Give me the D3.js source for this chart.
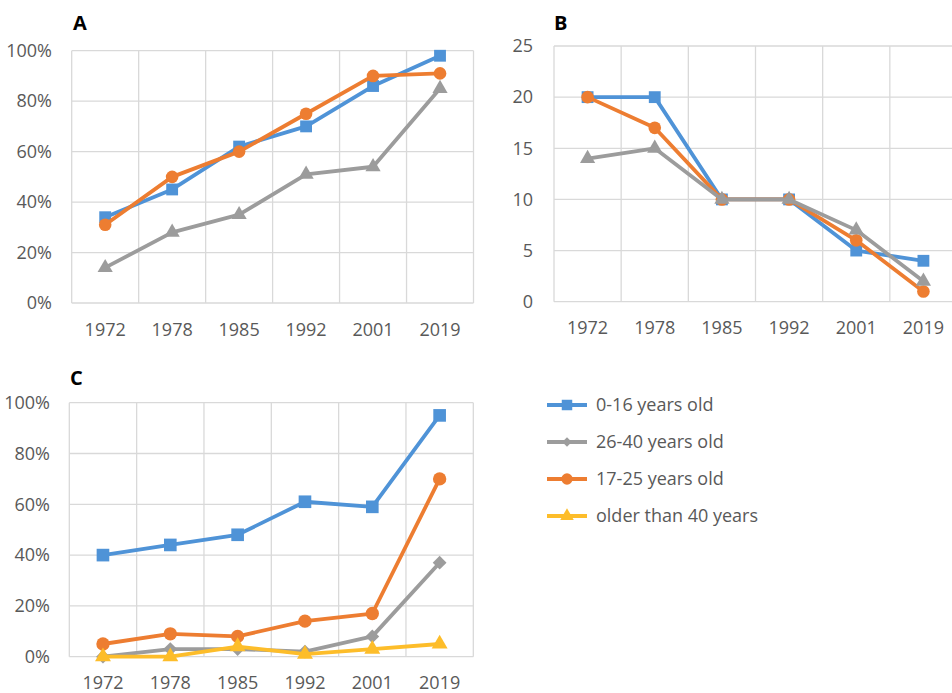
<!DOCTYPE html>
<html>
<head>
<meta charset="utf-8">
<script src="https://cdn.jsdelivr.net/npm/d3@7"></script>
<style>
  body { margin: 0; background: #fff; }
  text { font-family: "Open Sans", "Noto Sans", sans-serif; }
</style>
</head>
<body>
<div id="chart"></div>
<script>
const years = ['1972', '1978', '1985', '1992', '2001', '2019'];

// panel A (share, %)
const a0_16 = [34, 45, 62, 70, 86, 98];
const a17_25 = [31, 50, 60, 75, 90, 91];
const a26_40 = [14, 28, 35, 51, 54, 85];

// panel B (counts)
const b0_16 = [20, 20, 10, 10, 5, 4];
const b17_25 = [20, 17, 10, 10, 6, 1];
const b26_40 = [14, 15, 10, 10, 7, 2];

// panel C (share, %)
const c0_16 = [40, 44, 48, 61, 59, 95];
const c17_25 = [5, 9, 8, 14, 17, 70];
const c26_40 = [0, 3, 3, 2, 8, 37];
const cOver40 = [0, 0, 4, 1, 3, 5];

const pctTicks = [0, 20, 40, 60, 80, 100];
const numTicks = [0, 5, 10, 15, 20, 25];

const legendNames = ['0-16 years old', '26-40 years old', '17-25 years old', 'older than 40 years'];

const blue = '#4f93d7', orange = '#ed7d31', gray = '#9c9c9c', yellow = '#fdbd2a';
const textCol = '#595959', gridCol = '#d9d9d9';

const width = 952, height = 693;
const svg = d3.select('#chart').append('svg')
  .attr('width', width)
  .attr('height', height);

// diamond = square turned 45deg (d3's own diamond is too tall)
const marker = (type, size) => d3.symbol().type(type === 'diamond' ? d3.symbolSquare : type).size(size)();
const rot = (type) => type === 'diamond' ? ' rotate(45)' : '';

const drawPanel = (p) => {
  const x = d3.scaleBand().domain(years).range([p.left, p.right]);
  const y = d3.scaleLinear().domain([0, p.max]).range([p.bottom, p.top]);
  const g = svg.append('g');

  // gridlines + frame
  g.selectAll('.hgrid').data(p.ticks).enter().append('line')
    .attr('x1', p.left).attr('x2', p.right)
    .attr('y1', d => y(d)).attr('y2', d => y(d))
    .style('stroke', gridCol).style('stroke-width', 1.3);
  const edges = years.map(d => x(d)).concat([p.right]);
  g.selectAll('.vgrid').data(edges).enter().append('line')
    .attr('x1', d => d).attr('x2', d => d)
    .attr('y1', p.top).attr('y2', p.bottom)
    .style('stroke', gridCol).style('stroke-width', 1.3);

  // y tick labels
  g.selectAll('.ylab').data(p.ticks).enter().append('text')
    .attr('x', p.labelX).attr('y', d => y(d))
    .attr('dy', '0.35em')
    .attr('text-anchor', 'end')
    .style('font-size', '18px').style('fill', textCol)
    .text(p.fmt);

  // x tick labels
  g.selectAll('.xlab').data(years).enter().append('text')
    .attr('x', d => x(d) + x.bandwidth() / 2)
    .attr('y', p.xLabY)
    .attr('dy', '0.35em')
    .attr('text-anchor', 'middle')
    .style('font-size', '18px').style('fill', textCol)
    .text(d => d);

  // panel letter
  g.append('text')
    .attr('x', p.titleX).attr('y', p.titleY)
    .attr('dy', '0.35em')
    .style('font-size', '20px').style('font-weight', 'bold').style('fill', '#000')
    .text(p.title);

  const line = d3.line()
    .x((d, i) => x(years[i]) + x.bandwidth() / 2)
    .y(d => y(d));

  p.series.forEach(s => {
    g.append('path')
      .attr('d', line(s.values))
      .style('fill', 'none')
      .style('stroke', s.color)
      .style('stroke-width', 3.8)
      .style('stroke-linejoin', 'round');
    g.selectAll(null).data(s.values).enter().append('path')
      .attr('transform', (d, i) => `translate(${x(years[i]) + x.bandwidth() / 2}, ${y(d)})` + rot(s.shape))
      .attr('d', marker(s.shape, s.size))
      .style('fill', s.color);
  });
};

drawPanel({
  title: 'A', titleX: 73, titleY: 23,
  left: 71.7, right: 473.5, top: 50.7, bottom: 303,
  max: 100, ticks: pctTicks, fmt: d => d + '%', labelX: 52, xLabY: 330,
  series: [
    { values: a0_16, color: blue, shape: d3.symbolSquare, size: 140 },
    { values: a17_25, color: orange, shape: d3.symbolCircle, size: 125 },
    { values: a26_40, color: gray, shape: d3.symbolTriangle, size: 100 }
  ]
});

drawPanel({
  title: 'B', titleX: 554, titleY: 23,
  left: 554, right: 957, top: 46, bottom: 301.7,
  max: 25, ticks: numTicks, fmt: d => d, labelX: 533, xLabY: 328,
  series: [
    { values: b0_16, color: blue, shape: d3.symbolSquare, size: 140 },
    { values: b17_25, color: orange, shape: d3.symbolCircle, size: 125 },
    { values: b26_40, color: gray, shape: d3.symbolTriangle, size: 100 }
  ]
});

drawPanel({
  title: 'C', titleX: 70, titleY: 378,
  left: 69.3, right: 473.3, top: 402.7, bottom: 656.7,
  max: 100, ticks: pctTicks, fmt: d => d + '%', labelX: 50, xLabY: 683,
  series: [
    { values: c0_16, color: blue, shape: d3.symbolSquare, size: 160 },
    { values: c26_40, color: gray, shape: 'diamond', size: 95 },
    { values: c17_25, color: orange, shape: d3.symbolCircle, size: 140 },
    { values: cOver40, color: yellow, shape: d3.symbolTriangle, size: 110 }
  ]
});

// legend
const legendItems = [
  { name: legendNames[0], color: blue, shape: d3.symbolSquare, size: 110 },
  { name: legendNames[1], color: gray, shape: 'diamond', size: 45 },
  { name: legendNames[2], color: orange, shape: d3.symbolCircle, size: 100 },
  { name: legendNames[3], color: yellow, shape: d3.symbolTriangle, size: 80 }
];
const ly = d3.scalePoint().domain(legendNames).range([405, 516]);
const leg = svg.append('g');
legendItems.forEach(it => {
  const yy = ly(it.name);
  leg.append('line')
    .attr('x1', 547).attr('x2', 587).attr('y1', yy).attr('y2', yy)
    .style('stroke', it.color).style('stroke-width', 3.8);
  leg.append('path')
    .attr('transform', `translate(567, ${yy})` + rot(it.shape))
    .attr('d', marker(it.shape, it.size))
    .style('fill', it.color);
  leg.append('text')
    .attr('x', 596).attr('y', yy).attr('dy', '0.35em')
    .style('font-size', '18px').style('fill', textCol)
    .text(it.name);
});
</script>
</body>
</html>
